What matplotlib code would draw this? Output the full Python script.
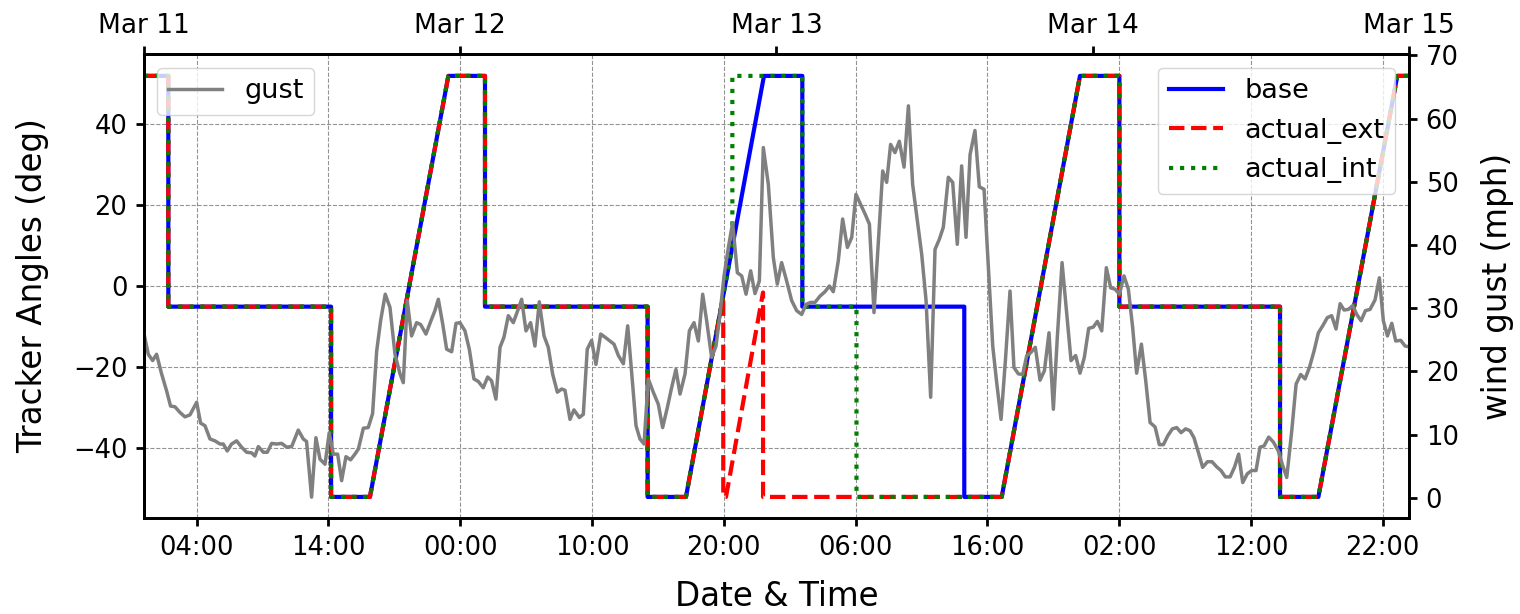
import matplotlib.pyplot as plt
import matplotlib.dates as mdates
import pandas as pd

start = pd.Timestamp('2023-03-11 00:00')
end = start + pd.Timedelta(hours=96)

# tracker angle breakpoints (hours from start, degrees)
base_h = [0, 1.85, 1.85, 14.2, 14.2, 17.15, 23.1, 25.88, 25.88, 38.22, 38.22, 41.13, 47.05,
          49.96, 49.96, 62.25, 62.25, 65.09, 71.03, 74.02, 74.02, 86.21, 86.21, 89.12, 95.11, 96]
base_deg = [52, 52, -5, -5, -52, -52, 52, 52, -5, -5, -52, -52, 52,
            52, -5, -5, -52, -52, 52, 52, -5, -5, -52, -52, 52, 52]

ext_h = [0, 1.85, 1.85, 14.2, 14.2, 17.15, 23.1, 25.88, 25.88, 38.22, 38.22, 41.13, 43.96,
         43.96, 44.17, 46.98, 46.98, 65.09, 71.03, 74.02, 74.02, 86.21, 86.21, 89.12, 95.11, 96]
ext_deg = [52, 52, -5, -5, -52, -52, 52, 52, -5, -5, -52, -52, -2.3,
           -52, -52, -1.5, -52, -52, 52, 52, -5, -5, -52, -52, 52, 52]

int_h = [0, 1.85, 1.85, 14.2, 14.2, 17.15, 23.1, 25.88, 25.88, 38.22, 38.22, 41.13, 44.65,
         44.65, 49.96, 49.96, 54.07, 54.07, 65.09, 71.03, 74.02, 74.02, 86.21, 86.21, 89.12, 95.11, 96]
int_deg = [52, 52, -5, -5, -52, -52, 52, 52, -5, -5, -52, -52, 9.8,
           52, 52, -5, -5, -52, -52, 52, 52, -5, -5, -52, -52, 52, 52]

# wind gust (hours from start, mph)
gust_h = [0.00, 0.33, 0.66, 0.96, 1.34, 1.72, 2.02, 2.35, 2.73, 3.11, 3.49, 4.00, 4.30, 4.63,
          5.01, 5.39, 5.77, 6.02, 6.32, 6.65, 7.03, 7.41, 7.79, 8.17, 8.42, 8.68, 9.06, 9.36,
          9.69, 10.07, 10.45, 10.83, 11.21, 11.71, 12.09, 12.34, 12.72, 13.05, 13.36, 13.74,
          14.06, 14.37, 14.70, 15.00, 15.33, 15.68, 16.01, 16.27, 16.65, 17.02, 17.35, 17.66,
          17.96, 18.31, 18.67, 19.05, 19.43, 19.68, 19.98, 20.31, 20.69, 21.00, 21.40, 21.78,
          22.08, 22.34, 22.67, 22.97, 23.35, 23.68, 23.98, 24.36, 24.69, 25.04, 25.37, 25.75,
          26.08, 26.38, 26.71, 27.02, 27.32, 27.65, 28.03, 28.36, 28.66, 28.99, 29.34, 29.67,
          30.00, 30.36, 30.68, 31.01, 31.37, 31.70, 31.95, 32.33, 32.63, 33.04, 33.34, 33.64,
          33.97, 34.30, 34.66, 34.99, 35.36, 35.67, 36.00, 36.38, 36.71, 37.01, 37.34, 37.64,
          37.95, 38.27, 38.65, 39.03, 39.36, 39.72, 40.04, 40.37, 40.68, 41.06, 41.39, 41.74,
          42.07, 42.40, 42.70, 43.08, 43.41, 43.71, 44.02, 44.35, 44.67, 45.03, 45.36, 45.69,
          46.04, 46.37, 46.70, 47.00, 47.38, 47.76, 48.06, 48.39, 48.77, 49.15, 49.53, 49.91,
          50.24, 50.59, 50.92, 51.30, 51.68, 52.01, 52.31, 52.69, 53.02, 53.38, 53.71, 54.03,
          54.39, 54.72, 55.05, 55.40, 55.73, 56.06, 56.36, 56.66, 56.99, 57.32, 57.68, 58.01,
          58.33, 58.69, 59.02, 59.35, 59.70, 60.03, 60.36, 60.66, 61.04, 61.37, 61.72, 62.05,
          62.38, 62.69, 63.06, 63.39, 63.75, 64.08, 64.41, 64.71, 65.04, 65.37, 65.72, 66.02,
          66.35, 66.68, 66.99, 67.31, 67.64, 68.00, 68.33, 68.68, 69.01, 69.31, 69.67, 70.02,
          70.35, 70.70, 71.03, 71.36, 71.69, 72.04, 72.35, 72.68, 73.03, 73.36, 73.69, 74.02,
          74.37, 74.70, 75.03, 75.33, 75.69, 76.02, 76.35, 76.73, 77.05, 77.36, 77.69, 78.04,
          78.37, 78.70, 79.05, 79.38, 79.68, 80.01, 80.34, 80.70, 81.05, 81.40, 81.73, 82.06,
          82.42, 82.75, 83.07, 83.38, 83.73, 84.06, 84.39, 84.69, 85.00, 85.35, 85.71, 86.08,
          86.41, 86.72, 87.10, 87.43, 87.78, 88.11, 88.44, 88.79, 89.12, 89.45, 89.80, 90.13,
          90.46, 90.77, 91.07, 91.40, 91.73, 92.03, 92.36, 92.69, 93.04, 93.42, 93.75, 94.05,
          94.36, 94.69, 94.99, 95.37, 95.70, 95.95]
gust_mph = [26.0, 22.7, 21.7, 22.7, 19.6, 16.9, 14.5, 14.4, 13.5, 12.8, 13.1, 15.1, 11.8, 11.4,
            9.3, 9.0, 8.5, 8.5, 7.4, 8.5, 9.0, 8.0, 7.2, 7.1, 6.6, 8.1, 7.2, 7.2,
            8.6, 8.5, 8.6, 8.0, 8.1, 10.7, 9.3, 8.9, 0.1, 9.5, 6.1, 5.3,
            10.3, 6.9, 6.9, 2.7, 6.5, 6.0, 6.9, 7.7, 11.0, 11.1, 13.3, 23.2,
            28.0, 32.2, 30.1, 22.7, 19.6, 18.2, 31.2, 25.6, 27.7, 27.4, 25.9, 28.0,
            29.6, 31.4, 27.5, 23.5, 23.1, 27.6, 27.7, 26.4, 23.5, 18.8, 18.4, 17.4,
            19.1, 18.5, 15.6, 23.8, 25.4, 28.8, 27.7, 29.6, 31.4, 26.4, 27.7, 24.0,
            31.0, 25.6, 23.8, 19.6, 16.7, 17.2, 17.0, 12.4, 13.9, 12.7, 13.2, 23.5,
            24.9, 21.1, 25.9, 25.4, 24.8, 24.3, 22.5, 21.2, 27.2, 19.8, 11.4, 9.3,
            8.5, 18.8, 16.7, 14.8, 11.1, 14.3, 17.4, 20.3, 16.4, 19.6, 26.4, 27.7,
            24.8, 32.2, 28.0, 22.2, 24.0, 29.0, 35.1, 39.6, 43.5, 35.6, 35.1, 32.2,
            35.9, 32.3, 34.3, 55.4, 49.6, 38.0, 33.8, 37.2, 34.3, 31.2, 29.6, 29.0,
            30.6, 30.9, 30.9, 31.9, 32.6, 33.5, 32.6, 37.5, 44.1, 39.6, 41.2, 48.0,
            46.4, 44.9, 43.3, 29.3, 40.6, 51.7, 49.9, 55.9, 54.6, 56.4, 52.3, 62.0,
            49.6, 43.8, 38.5, 31.2, 15.9, 39.3, 40.9, 42.8, 50.7, 49.9, 40.1, 52.5,
            41.2, 54.3, 58.1, 49.2, 48.8, 36.4, 24.0, 18.2, 12.4, 21.7, 32.7, 20.6,
            19.6, 19.5, 22.5, 23.0, 23.8, 18.6, 20.1, 26.1, 14.0, 25.4, 37.2, 29.3,
            21.7, 22.5, 19.7, 22.2, 26.8, 27.0, 27.9, 26.4, 36.4, 33.2, 33.0, 32.2,
            35.1, 33.0, 26.9, 19.7, 24.3, 18.5, 11.9, 11.2, 8.4, 8.4, 9.8, 10.9,
            11.1, 10.3, 10.9, 10.6, 9.5, 7.2, 4.8, 5.7, 5.7, 4.9, 4.3, 3.3,
            3.3, 4.8, 6.9, 2.4, 3.8, 4.3, 4.3, 8.0, 8.2, 9.6, 8.8, 7.4,
            5.1, 3.2, 10.6, 18.0, 19.5, 18.8, 20.6, 23.2, 26.1, 27.2, 28.5, 28.8,
            26.7, 30.7, 29.7, 29.8, 30.4, 29.0, 28.0, 29.6, 29.8, 31.3, 34.8, 28.0,
            25.6, 27.6, 24.8, 24.9, 24.0, 23.9]

hour_ticks = pd.date_range('2023-03-11 04:00', '2023-03-14 22:00', freq='10h')
day_ticks = pd.date_range('2023-03-11', '2023-03-15', freq='D')


def to_time(hours):
    return start + pd.to_timedelta(hours, unit='h')


fig, ax = plt.subplots(figsize=(15.2, 6.14), dpi=100)
fig.subplots_adjust(left=0.0947, right=0.927, bottom=0.1564, top=0.912)

ax.plot(to_time(base_h), base_deg, color='blue', lw=3, label='base')
ax.plot(to_time(ext_h), ext_deg, color='red', ls='--', lw=3, label='actual_ext')
ax.plot(to_time(int_h), int_deg, color='green', ls=':', lw=3, label='actual_int')
ax.set_ylim(-57.2, 57.4)
ax.set_xlim(start, end)
ax.set_ylabel('Tracker Angles (deg)', fontsize=23.5, labelpad=17)
ax.set_xlabel('Date & Time', fontsize=23.5, labelpad=14)
ax.set_xticks(hour_ticks)
ax.xaxis.set_major_formatter(mdates.DateFormatter('%H:%M'))
ax.grid(True, ls='--', color='gray', lw=0.8, alpha=0.85)
ax.tick_params(labelsize=18.5, width=2, length=6, pad=6)
ax.legend(loc='upper right', fontsize=19.5)

top = ax.secondary_xaxis('top')
top.set_xticks(mdates.date2num(day_ticks))
top.xaxis.set_major_formatter(mdates.DateFormatter('%b %d'))
top.tick_params(labelsize=19, width=2, length=6, pad=5)

ax2 = ax.twinx()
ax2.plot(to_time(gust_h), gust_mph, color='gray', lw=2.5, label='gust')
ax2.set_ylim(-3.2, 70.2)
ax2.set_ylabel('wind gust (mph)', fontsize=23.5, labelpad=16)
ax2.tick_params(labelsize=18.5, width=2, length=6, pad=6)
ax2.legend(loc='upper left', fontsize=19.5)

for a in (ax, ax2, top):
    for s in a.spines.values():
        s.set_linewidth(2)

fig.savefig('out.png')
